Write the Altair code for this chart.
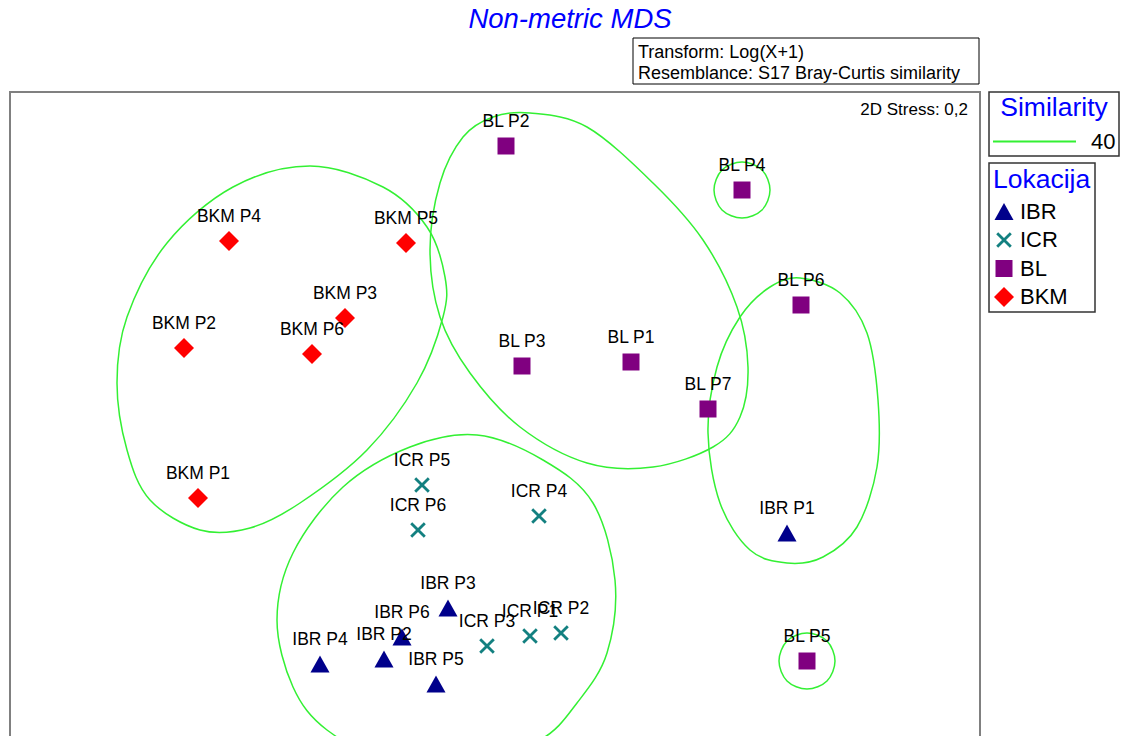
import altair as alt
import pandas as pd

FONT = "Liberation Sans"

# ---------------- data (MDS coordinates) ----------------
sample_labels = ["IBR P1", "IBR P2", "IBR P3", "IBR P4", "IBR P5", "IBR P6",
                 "ICR P1", "ICR P2", "ICR P3", "ICR P4", "ICR P5", "ICR P6",
                 "BL P1", "BL P2", "BL P3", "BL P4", "BL P5", "BL P6", "BL P7",
                 "BKM P1", "BKM P2", "BKM P3", "BKM P4", "BKM P5", "BKM P6"]
sample_group = ["IBR"] * 6 + ["ICR"] * 6 + ["BL"] * 7 + ["BKM"] * 6
mds1 = [2.92, -1.11, -0.47, -1.75, -0.59, -0.93,
        0.35, 0.66, -0.08, 0.44, -0.73, -0.77,
        1.36, 0.11, 0.27, 2.47, 3.12, 3.06, 2.13,
        -2.97, -3.11, -1.50, -2.66, -0.89, -1.83]
mds2 = [-0.83, -2.09, -1.58, -2.14, -2.34, -1.87,
        -1.86, -1.83, -1.96, -0.66, -0.35, -0.80,
        0.88, 3.04, 0.84, 2.60, -2.11, 1.45, 0.41,
        -0.48, 1.02, 1.32, 2.09, 2.07, 0.96]

groups = ["IBR", "ICR", "BL", "BKM"]
group_colors = ["#00008b", "#138080", "#800080", "#ff0000"]
# marker outlines in the [-1, 1] symbol box (all drawn at one symbol size)
triangle_path = "M0,-0.85L0.95,0.85L-0.95,0.85Z"
x_path = ("M-0.78,-0.58L-0.58,-0.78L0,-0.2L0.58,-0.78L0.78,-0.58L0.2,0"
          "L0.78,0.58L0.58,0.78L0,0.2L-0.58,0.78L-0.78,0.58L-0.2,0Z")
square_path = "M-0.85,-0.85L0.85,-0.85L0.85,0.85L-0.85,0.85Z"
diamond_path = "M0,-1L1,0L0,1L-1,0Z"
group_shapes = [triangle_path, x_path, square_path, diamond_path]

# similarity (40 %) contours: control points of each smooth closed outline
contour_bkm_x = [-1.95, -1.28, -0.78, -0.52, -0.50, -0.68, -1.12, -1.85,
                 -2.62, -3.28, -3.68, -3.78, -3.68, -3.45, -2.95, -2.45]
contour_bkm_y = [-0.53, 0.00, 0.67, 1.33, 1.73, 2.23, 2.63, 2.84,
                 2.63, 2.07, 1.33, 0.67, 0.00, -0.50, -0.80, -0.78]
contour_bl_x = [0.35, 0.92, 1.58, 2.08, 2.42, 2.53, 2.45, 2.18, 1.58,
                0.92, 0.25, -0.25, -0.55, -0.65, -0.55, -0.32, -0.02]
contour_bl_y = [3.37, 3.23, 2.67, 2.10, 1.43, 0.83, 0.33, 0.03, -0.17,
                -0.13, 0.23, 0.77, 1.33, 2.00, 2.67, 3.13, 3.33]
contour_bl4_x = [2.75, 2.67, 2.47, 2.27, 2.19, 2.27, 2.47, 2.67]
contour_bl4_y = [2.60, 2.80, 2.88, 2.80, 2.60, 2.40, 2.32, 2.40]
contour_east_x = [3.05, 3.45, 3.72, 3.83, 3.82, 3.62, 3.28, 2.92,
                  2.55, 2.25, 2.13, 2.22, 2.45, 2.75]
contour_east_y = [1.72, 1.57, 1.17, 0.50, -0.17, -0.77, -1.07, -1.13,
                  -1.00, -0.53, 0.17, 0.83, 1.33, 1.63]
contour_south_x = [-0.18, 0.48, 0.98, 1.20, 1.12, 0.82, 0.45, -0.25,
                   -1.05, -1.68, -2.02, -2.18, -2.02, -1.52, -0.85]
contour_south_y = [0.15, -0.10, -0.53, -1.30, -2.03, -2.53, -2.90, -3.12,
                   -3.10, -2.80, -2.37, -1.70, -1.03, -0.37, 0.03]
contour_bl5_x = [3.40, 3.32, 3.12, 2.92, 2.84, 2.92, 3.12, 3.32]
contour_bl5_y = [-2.11, -1.91, -1.83, -1.91, -2.11, -2.31, -2.39, -2.31]

similarity_level = "40"

# ---------------- tables ----------------
samples = pd.DataFrame({"Uzorak": sample_labels, "Lokacija": sample_group,
                        "MDS1": mds1, "MDS2": mds2})

contour_sets = [("bkm", contour_bkm_x, contour_bkm_y),
                ("bl", contour_bl_x, contour_bl_y),
                ("bl4", contour_bl4_x, contour_bl4_y),
                ("east", contour_east_x, contour_east_y),
                ("south", contour_south_x, contour_south_y),
                ("bl5", contour_bl5_x, contour_bl5_y)]
rows = []
for cid, xs, ys in contour_sets:
    for i, (cx, cy) in enumerate(zip(xs, ys)):
        rows.append({"contour": cid, "idx": i, "MDS1": cx, "MDS2": cy,
                     "Similarity": similarity_level})
contours = pd.DataFrame(rows)

PLOT_W, PLOT_H = 970, 700
xscale = alt.Scale(domain=[-4.85, 4.85], nice=False, zero=False)
yscale = alt.Scale(domain=[-3.42, 3.58], nice=False, zero=False)

# ---------------- legends ----------------
sim_legend = alt.Legend(
    title="Similarity", orient="none", legendX=979, legendY=0,
    padding=3, strokeColor="#333333", fillColor="white",
    titleFont=FONT, titleFontSize=26.5, titleFontWeight="normal",
    titleColor="#0000ff", titleAnchor="middle", titlePadding=11,
    symbolType="stroke", symbolSize=6889, symbolStrokeWidth=2,
    labelFont=FONT, labelFontSize=22, labelColor="black", labelOffset=14,
    clipHeight=18)

loc_legend = alt.Legend(
    title="Lokacija", orient="none", legendX=979, legendY=71,
    padding=4, strokeColor="#333333", fillColor="white",
    titleFont=FONT, titleFontSize=26.5, titleFontWeight="normal",
    titleColor="#0000ff", titleAnchor="start", titlePadding=7,
    labelFont=FONT, labelFontSize=22, labelColor="black", labelOffset=5,
    rowPadding=6.5, symbolSize=400, symbolStrokeWidth=0, symbolOpacity=1,
    symbolOffset=0)

# ---------------- layers ----------------
one = pd.DataFrame({"k": [0]})

frame = alt.Chart(one).mark_rect(
    fillOpacity=0, stroke="#808080", strokeWidth=2
).encode(x=alt.value(0), x2=alt.value(PLOT_W), y=alt.value(0), y2=alt.value(760))

lines = alt.Chart(contours).mark_line(
    interpolate="cardinal-closed", strokeWidth=1.5
).encode(
    x=alt.X("MDS1:Q", scale=xscale, axis=None),
    y=alt.Y("MDS2:Q", scale=yscale, axis=None),
    detail="contour:N",
    order="idx:Q",
    stroke=alt.Stroke("Similarity:N",
                      scale=alt.Scale(domain=[similarity_level], range=["#33f033"]),
                      legend=sim_legend),
)

points = alt.Chart(samples).mark_point(
    filled=True, opacity=1, strokeWidth=0, size=400
).encode(
    x=alt.X("MDS1:Q", scale=xscale, axis=None),
    y=alt.Y("MDS2:Q", scale=yscale, axis=None),
    color=alt.Color("Lokacija:N", scale=alt.Scale(domain=groups, range=group_colors),
                    legend=loc_legend),
    shape=alt.Shape("Lokacija:N", scale=alt.Scale(domain=groups, range=group_shapes),
                    legend=loc_legend),
)

labels = alt.Chart(samples).mark_text(
    font=FONT, fontSize=17.5, color="black", align="center",
    baseline="alphabetic", dy=-19
).encode(
    x=alt.X("MDS1:Q", scale=xscale, axis=None),
    y=alt.Y("MDS2:Q", scale=yscale, axis=None),
    text="Uzorak:N",
)

stress = alt.Chart(one).mark_text(
    text="2D Stress: 0,2", font=FONT, fontSize=17, color="black",
    align="right", baseline="alphabetic"
).encode(x=alt.value(958), y=alt.value(23))

header_box = alt.Chart(one).mark_rect(
    fill="white", stroke="black", strokeWidth=1
).encode(x=alt.value(623), x2=alt.value(969), y=alt.value(-54), y2=alt.value(-8))

header_line1 = alt.Chart(one).mark_text(
    text="Transform: Log(X+1)", font=FONT, fontSize=18, color="black",
    align="left", baseline="alphabetic"
).encode(x=alt.value(628), y=alt.value(-34))

header_line2 = alt.Chart(one).mark_text(
    text="Resemblance: S17 Bray-Curtis similarity", font=FONT, fontSize=18,
    color="black", align="left", baseline="alphabetic"
).encode(x=alt.value(628), y=alt.value(-13))

title = alt.Chart(one).mark_text(
    text="Non-metric MDS", font=FONT, fontSize=27.5, fontStyle="italic",
    color="#0000ff", align="center", baseline="alphabetic"
).encode(x=alt.value(560), y=alt.value(-64))

chart = alt.layer(
    frame, lines, points, labels, stress, header_box, header_line1, header_line2, title
).properties(
    width=PLOT_W, height=PLOT_H,
    autosize=alt.AutoSizeParams(type="none"),
    padding={"left": 2, "top": 84, "right": 142, "bottom": 0},
).configure_view(
    stroke=None
).configure_legend(
    strokeWidth=1.5
)

chart.save("out.html", embed_options={"renderer": "svg", "actions": False})
